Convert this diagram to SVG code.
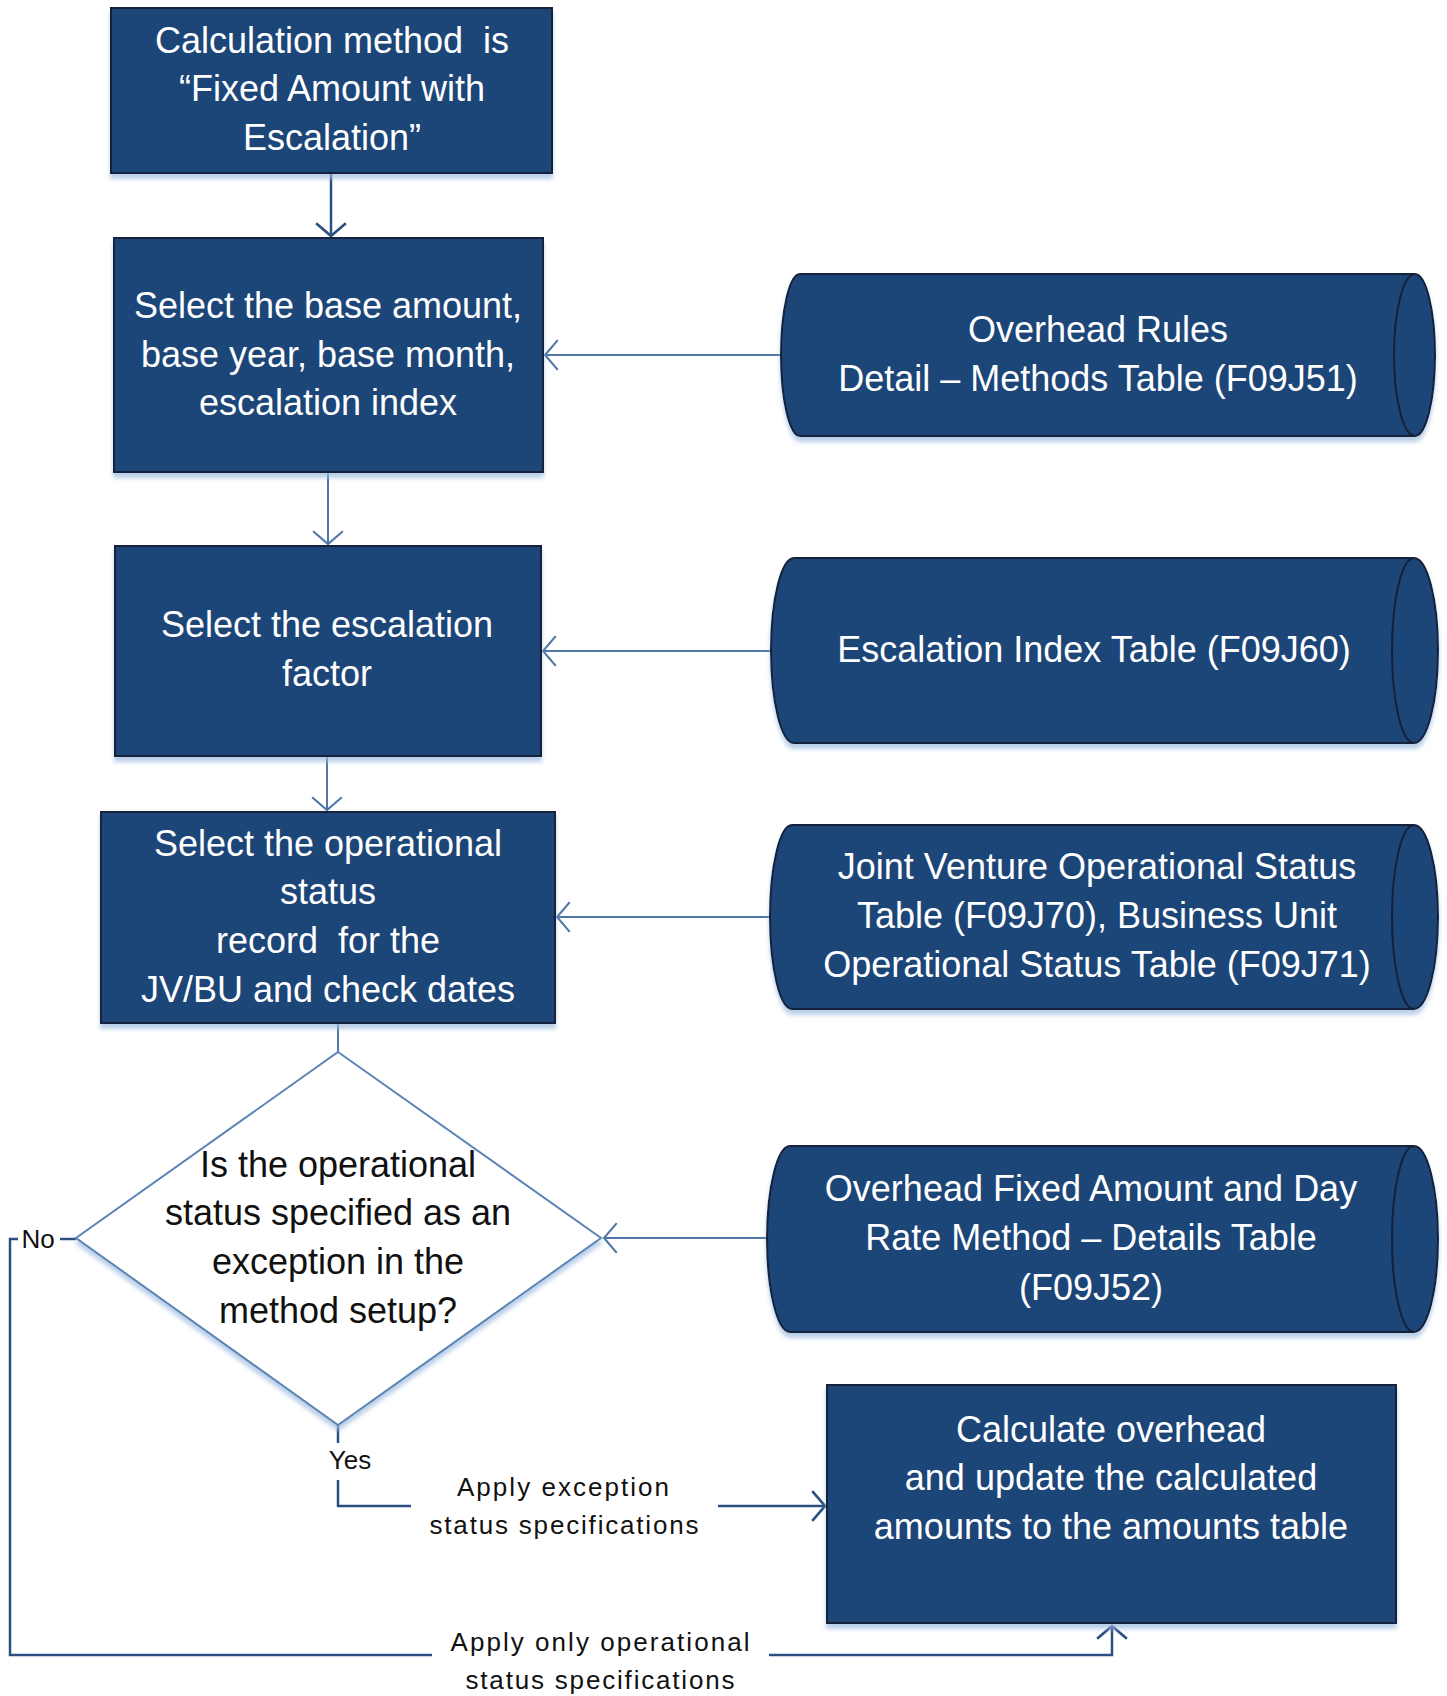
<svg xmlns="http://www.w3.org/2000/svg" width="1447" height="1696" viewBox="0 0 1447 1696">
<defs>
<filter id="sh" x="-5%" y="-5%" width="110%" height="120%">
<feDropShadow dx="0" dy="5" stdDeviation="2" flood-color="#9dbbe0" flood-opacity="0.7"/>
</filter>
<marker id="ah" markerUnits="userSpaceOnUse" markerWidth="30" markerHeight="34" viewBox="-14 -16 16 32" refX="0" refY="0" orient="auto">
<path d="M-12,-14 L0,0 L-12,14" fill="none" stroke="#4f77a8" stroke-width="2"/>
</marker>
<marker id="ahd" markerUnits="userSpaceOnUse" markerWidth="30" markerHeight="34" viewBox="-14 -16 16 32" refX="0" refY="0" orient="auto">
<path d="M-12,-14 L0,0 L-12,14" fill="none" stroke="#2c4f82" stroke-width="2.5"/>
</marker>
</defs>
<style>
.box{fill:#1f4478;stroke:#15203a;stroke-width:2;filter:url(#sh)}
.cyl{fill:#1f4478;stroke:#15203a;stroke-width:2;filter:url(#sh)}
.inner{fill:none;stroke:#15203a;stroke-width:2}
.t{font-family:"Liberation Sans",Arial,sans-serif;font-size:36px;fill:#ffffff;text-anchor:middle;white-space:pre}
.d{font-family:"Liberation Sans",Arial,sans-serif;font-size:36px;fill:#111111;text-anchor:middle}
.l{font-family:"Liberation Sans",Arial,sans-serif;font-size:26px;fill:#111111;text-anchor:middle}
.c{fill:none;stroke:#4f77a8;stroke-width:2}
.cd{fill:none;stroke:#2c4f82;stroke-width:2.5}
</style>
<rect width="1447" height="1696" fill="#ffffff"/>
<g id="connectors">
<path class="cd" d="M331,173 L331,236" marker-end="url(#ahd)"/>
<path class="c" d="M781,355 L545,355" marker-end="url(#ah)"/>
<path class="c" d="M328,472 L328,544" marker-end="url(#ah)"/>
<path class="c" d="M771,651 L543,651" marker-end="url(#ah)"/>
<path class="c" d="M327,756 L327,810" marker-end="url(#ah)"/>
<path class="c" d="M770,917 L557,917" marker-end="url(#ah)"/>
<path class="c" d="M338,1023 L338,1052"/>
<path class="c" d="M767,1238 L604,1238" marker-end="url(#ah)"/>
<path class="cd" d="M76,1239 L60,1239"/>
<path class="cd" d="M18,1239 L10,1239 L10,1655 L432,1655"/>
<path class="cd" d="M769,1655 L1112,1655 L1112,1626" marker-end="url(#ahd)"/>
<path class="cd" d="M338,1425 L338,1443"/>
<path class="cd" d="M338,1480 L338,1506 L411,1506"/>
<path class="cd" d="M718,1506 L825,1506" marker-end="url(#ahd)"/>
<text class="l" x="38" y="1248">No</text>
<text class="l" x="350" y="1469">Yes</text>
<text class="l" x="563" y="1496" textLength="212" lengthAdjust="spacing">Apply exception</text>
<text class="l" x="564" y="1534" textLength="269" lengthAdjust="spacing">status specifications</text>
<text class="l" x="600" y="1651" textLength="299" lengthAdjust="spacing">Apply only operational</text>
<text class="l" x="600" y="1689" textLength="269" lengthAdjust="spacing">status specifications</text>
</g>
<g id="n1">
<rect class="box" x="111" y="8" width="441" height="165"/>
<text class="t" x="332" y="53" xml:space="preserve">Calculation method  is</text>
<text class="t" x="332" y="101">“Fixed Amount with</text>
<text class="t" x="332" y="150">Escalation”</text>
</g>
<g id="n2">
<rect class="box" x="114" y="238" width="429" height="234"/>
<text class="t" x="328" y="318">Select the base amount,</text>
<text class="t" x="328" y="367">base year, base month,</text>
<text class="t" x="328" y="415">escalation index</text>
</g>
<g id="n3">
<rect class="box" x="115" y="546" width="426" height="210"/>
<text class="t" x="327" y="637">Select the escalation</text>
<text class="t" x="327" y="686">factor</text>
</g>
<g id="n4">
<rect class="box" x="101" y="812" width="454" height="211"/>
<text class="t" x="328" y="856">Select the operational</text>
<text class="t" x="328" y="904">status</text>
<text class="t" x="328" y="953" xml:space="preserve">record  for the</text>
<text class="t" x="328" y="1002">JV/BU and check dates</text>
</g>
<g id="n5">
<path d="M338,1052 L601,1238 L338,1425 L76,1238 Z" fill="#ffffff" stroke="#5a85b5" stroke-width="2" filter="url(#sh)"/>
<text class="d" x="338" y="1177">Is the operational</text>
<text class="d" x="338" y="1225">status specified as an</text>
<text class="d" x="338" y="1274">exception in the</text>
<text class="d" x="338" y="1323">method setup?</text>
</g>
<g id="n6">
<rect class="box" x="827" y="1385" width="569" height="238"/>
<text class="t" x="1111" y="1442">Calculate overhead</text>
<text class="t" x="1111" y="1490">and update the calculated</text>
<text class="t" x="1111" y="1539">amounts to the amounts table</text>
</g>
<g id="n7">
<path class="cyl" d="M800,274 L1415,274 A20,81 0 0 1 1415,436 L800,436 A19,81 0 0 1 800,274 Z"/>
<path class="inner" d="M1415,274 A21,81 0 0 0 1415,436"/>
<text class="t" x="1098" y="342">Overhead Rules</text>
<text class="t" x="1098" y="391">Detail – Methods Table (F09J51)</text>
</g>
<g id="n8">
<path class="cyl" d="M794,558 L1414,558 A24,92.5 0 0 1 1414,743 L794,743 A23,92.5 0 0 1 794,558 Z"/>
<path class="inner" d="M1414,558 A22,92.5 0 0 0 1414,743"/>
<text class="t" x="1094" y="662">Escalation Index Table (F09J60)</text>
</g>
<g id="n9">
<path class="cyl" d="M792,825 L1414,825 A24,92 0 0 1 1414,1009 L792,1009 A22,92 0 0 1 792,825 Z"/>
<path class="inner" d="M1414,825 A22,92 0 0 0 1414,1009"/>
<text class="t" x="1097" y="879">Joint Venture Operational Status</text>
<text class="t" x="1097" y="928">Table (F09J70), Business Unit</text>
<text class="t" x="1097" y="977">Operational Status Table (F09J71)</text>
</g>
<g id="n10">
<path class="cyl" d="M790,1146 L1414,1146 A24,93 0 0 1 1414,1332 L790,1332 A23,93 0 0 1 790,1146 Z"/>
<path class="inner" d="M1414,1146 A22,93 0 0 0 1414,1332"/>
<text class="t" x="1091" y="1201">Overhead Fixed Amount and Day</text>
<text class="t" x="1091" y="1250">Rate Method – Details Table</text>
<text class="t" x="1091" y="1300">(F09J52)</text>
</g>
</svg>
